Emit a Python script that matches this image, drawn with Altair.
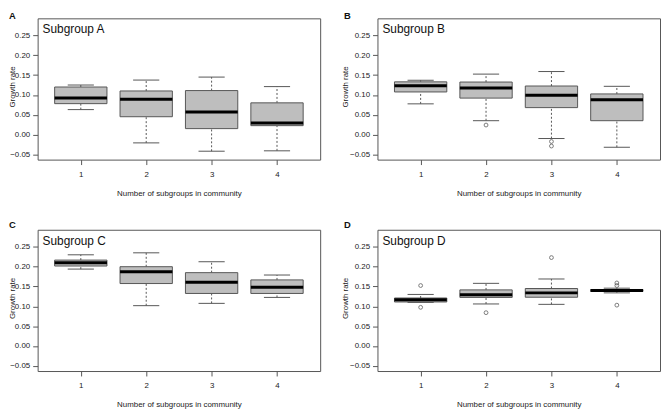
import altair as alt
import pandas as pd

FONT = "Liberation Sans, Arial, Helvetica, sans-serif"

N = [1, 2, 3, 4]

# Panel A
A_lo = [0.063, -0.021, -0.042, -0.041]
A_q1 = [0.078, 0.045, 0.015, 0.0225]
A_med = [0.092, 0.089, 0.057, 0.029]
A_q3 = [0.120, 0.110, 0.111, 0.080]
A_hi = [0.125, 0.1375, 0.145, 0.121]
A_out_n = []
A_out_v = []

# Panel B
B_lo = [0.0775, 0.035, -0.010, -0.032]
B_q1 = [0.1075, 0.092, 0.068, 0.035]
B_med = [0.123, 0.1175, 0.099, 0.088]
B_q3 = [0.133, 0.1325, 0.1225, 0.1025]
B_hi = [0.137, 0.1525, 0.159, 0.1217]
B_out_n = [2, 3, 3]
B_out_v = [0.024, -0.0175, -0.029]

# Panel C
C_lo = [0.194, 0.1017, 0.1075, 0.1225]
C_q1 = [0.2017, 0.1575, 0.1325, 0.1325]
C_med = [0.210, 0.187, 0.161, 0.148]
C_q3 = [0.2167, 0.200, 0.185, 0.1667]
C_hi = [0.230, 0.235, 0.2125, 0.179]
C_out_n = []
C_out_v = []

# Panel D
D_lo = [0.110, 0.106, 0.105, 0.134]
D_q1 = [0.111, 0.1225, 0.123, 0.1375]
D_med = [0.1165, 0.129, 0.134, 0.140]
D_q3 = [0.121, 0.1415, 0.145, 0.1425]
D_hi = [0.130, 0.158, 0.169, 0.1458]
D_out_n = [1, 1, 2, 3, 4, 4, 4]
D_out_v = [0.1525, 0.0975, 0.084, 0.223, 0.159, 0.1525, 0.103]

Y_TICKS = [-0.05, 0.0, 0.05, 0.10, 0.15, 0.20, 0.25]
X_TICKS = [1, 2, 3, 4]
XDOM = [0.34, 4.66]
YDOM = [-0.0632, 0.2932]

W, H = 286, 143
LINE = "#555555"


def panel(letter, name, lo, q1, med, q3, hi, out_n, out_v, left_col, top_row):
    df = pd.DataFrame(dict(n=N, lo=lo, q1=q1, med=med, q3=q3, hi=hi))
    xs = alt.Scale(domain=XDOM, nice=False, zero=False)
    ys = alt.Scale(domain=YDOM, nice=False, zero=False)
    yaxis = alt.Axis(values=Y_TICKS, format=".2f", title="Growth rate",
                     titleX=-23 if left_col else -30, titleY=69,
                     titleBaseline="alphabetic",
                     tickSize=5, labelPadding=3)
    xaxis = alt.Axis(values=X_TICKS, format="d",
                     title="Number of subgroups in community",
                     tickSize=5, labelPadding=6, titleY=36,
                     titleBaseline="alphabetic")

    def Xf(f):
        return alt.X(f, type="quantitative", scale=xs, axis=xaxis)

    def Yf(f):
        return alt.Y(f, type="quantitative", scale=ys, axis=yaxis)

    base = alt.Chart(df).transform_calculate(
        xl="datum.n - 0.4", xr="datum.n + 0.4",
        cl="datum.n - 0.2", cr="datum.n + 0.2")

    upper = base.mark_rule(color=LINE, strokeDash=[2, 2], strokeWidth=1).encode(
        x=Xf("n"), y=Yf("q3"), y2="hi:Q")
    lower = base.mark_rule(color=LINE, strokeDash=[2, 2], strokeWidth=1).encode(
        x=Xf("n"), y=Yf("lo"), y2="q1:Q")
    cap_hi = base.mark_rule(color=LINE, strokeWidth=1).encode(
        x=Xf("cl"), x2="cr:Q", y=Yf("hi"))
    cap_lo = base.mark_rule(color=LINE, strokeWidth=1).encode(
        x=Xf("cl"), x2="cr:Q", y=Yf("lo"))
    box = base.mark_rect(fill="#BEBEBE", stroke=LINE, strokeWidth=1).encode(
        x=Xf("xl"), x2="xr:Q", y=Yf("q1"), y2="q3:Q")
    medr = base.mark_rule(color="black", strokeWidth=3).encode(
        x=Xf("xl"), x2="xr:Q", y=Yf("med"))

    layers = [upper, lower, cap_hi, cap_lo, box, medr]

    if out_n:
        odf = pd.DataFrame(dict(n=out_n, v=out_v))
        pts = alt.Chart(odf).mark_point(shape="circle", filled=False, size=15,
                                         strokeWidth=0.9, color="#333333").encode(
            x=Xf("n"), y=Yf("v"))
        layers.append(pts)

    name_txt = alt.Chart(pd.DataFrame({"t": [name]})).mark_text(
        align="left", baseline="alphabetic", fontSize=12, font=FONT,
        color="#111111").encode(x=alt.value(5), y=alt.value(15), text="t:N")
    lx = -29 if left_col else -34
    ly = -7 if top_row else -10
    let_txt = alt.Chart(pd.DataFrame({"t": [letter]})).mark_text(
        align="left", baseline="top", fontSize=9.5, fontWeight="bold", font=FONT,
        color="#111111").encode(x=alt.value(lx), y=alt.value(ly), text="t:N")
    layers += [name_txt, let_txt]

    return alt.layer(*layers).properties(width=W, height=H)


pA = panel("A", "Subgroup A", A_lo, A_q1, A_med, A_q3, A_hi, A_out_n, A_out_v, True, True)
pB = panel("B", "Subgroup B", B_lo, B_q1, B_med, B_q3, B_hi, B_out_n, B_out_v, False, True)
pC = panel("C", "Subgroup C", C_lo, C_q1, C_med, C_q3, C_hi, C_out_n, C_out_v, True, False)
pD = panel("D", "Subgroup D", D_lo, D_q1, D_med, D_q3, D_hi, D_out_n, D_out_v, False, False)

chart = alt.concat(pA, pB, pC, pD, columns=2,
                   spacing={"row": 71, "column": 58},
                   bounds="flush").properties(
    padding=0, background="white"
).configure_view(
    stroke=LINE, strokeWidth=1
).configure_axis(
    grid=False, domain=False, tickColor=LINE, tickWidth=1,
    labelFont=FONT, labelFontSize=8, labelColor="#222222",
    titleFont=FONT, titleFontSize=8, titleFontWeight="normal",
    titleColor="#222222"
)

chart.save("out.html", embed_options={"renderer": "svg", "actions": False})
